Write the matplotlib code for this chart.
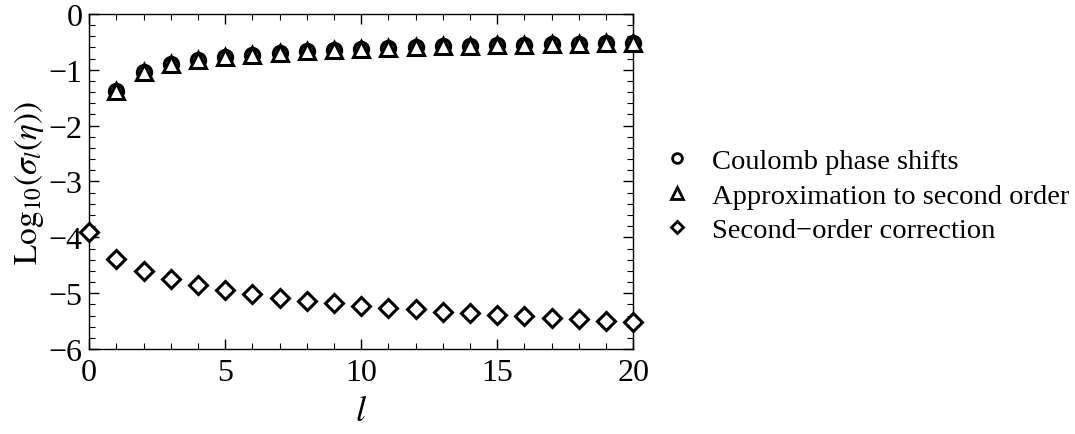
import matplotlib
matplotlib.use("Agg")
import matplotlib.pyplot as plt
from matplotlib.lines import Line2D
from matplotlib.ticker import MultipleLocator

plt.rcParams['font.family'] = ['Liberation Serif', 'DejaVu Serif']
plt.rcParams['mathtext.fontset'] = 'stix'

# values
l_vals = list(range(1, 21))
coulomb = [-1.39, -1.04, -0.90, -0.82, -0.77, -0.73, -0.70, -0.67, -0.65, -0.63,
           -0.61, -0.60, -0.58, -0.57, -0.56, -0.55, -0.54, -0.535, -0.53, -0.52]
approx = [-1.39, -1.04, -0.90, -0.82, -0.77, -0.73, -0.70, -0.67, -0.65, -0.63,
          -0.61, -0.60, -0.58, -0.57, -0.56, -0.55, -0.54, -0.535, -0.53, -0.52]
l_corr = list(range(0, 21))
correction = [-3.91, -4.38, -4.60, -4.75, -4.85, -4.94, -5.02, -5.08, -5.13, -5.18, -5.22,
              -5.26, -5.29, -5.33, -5.35, -5.38, -5.41, -5.44, -5.46, -5.49, -5.51]
labels = ["Coulomb phase shifts", "Approximation to second order", "Second\u2212order correction"]

fig = plt.figure(figsize=(10.75, 4.35), dpi=100)
ax = fig.add_axes([0.083, 0.195, 0.506, 0.771])

ax.plot(l_vals, coulomb, 'o', ms=10, mfc='white', mec='black', mew=2.5, clip_on=False, zorder=3)
ax.plot(l_vals, approx, '^', ms=11.5, mfc='white', mec='black', mew=2.2, clip_on=False, zorder=4)
ax.plot(l_corr, correction, 'D', ms=9, mfc='white', mec='black', mew=2.2, clip_on=False, zorder=4)

ax.set_xlim(0, 20)
ax.set_ylim(-6, 0)
ax.xaxis.set_major_locator(MultipleLocator(5))
ax.xaxis.set_minor_locator(MultipleLocator(1))
ax.yaxis.set_major_locator(MultipleLocator(1))
ax.yaxis.set_minor_locator(MultipleLocator(0.2))
ax.tick_params(which='both', direction='in', top=True, right=True, labelsize=23)
ax.tick_params(axis='x', pad=6)
ax.tick_params(axis='y', pad=5)
ax.tick_params(which='major', length=7, width=1)
ax.tick_params(which='minor', length=4, width=0.8)
for s in ax.spines.values():
    s.set_linewidth(1)

ax.set_xlabel(r'$l$', fontsize=26, labelpad=6)
ax.set_ylabel(r'$\mathrm{Log}_{10}(\sigma_l(\eta))$', fontsize=24, labelpad=2)

handles = [
    Line2D([], [], ls='none', marker='o', ms=7, mfc='white', mec='black', mew=2),
    Line2D([], [], ls='none', marker='^', ms=8, mfc='white', mec='black', mew=2),
    Line2D([], [], ls='none', marker='D', ms=6, mfc='white', mec='black', mew=2),
]
fig.legend(handles, labels, loc='center left', bbox_to_anchor=(0.593, 0.548),
           frameon=False, fontsize=20.5, handlelength=1.0, handletextpad=0.7,
           labelspacing=0.3)

fig.savefig("out.png", dpi=100)
